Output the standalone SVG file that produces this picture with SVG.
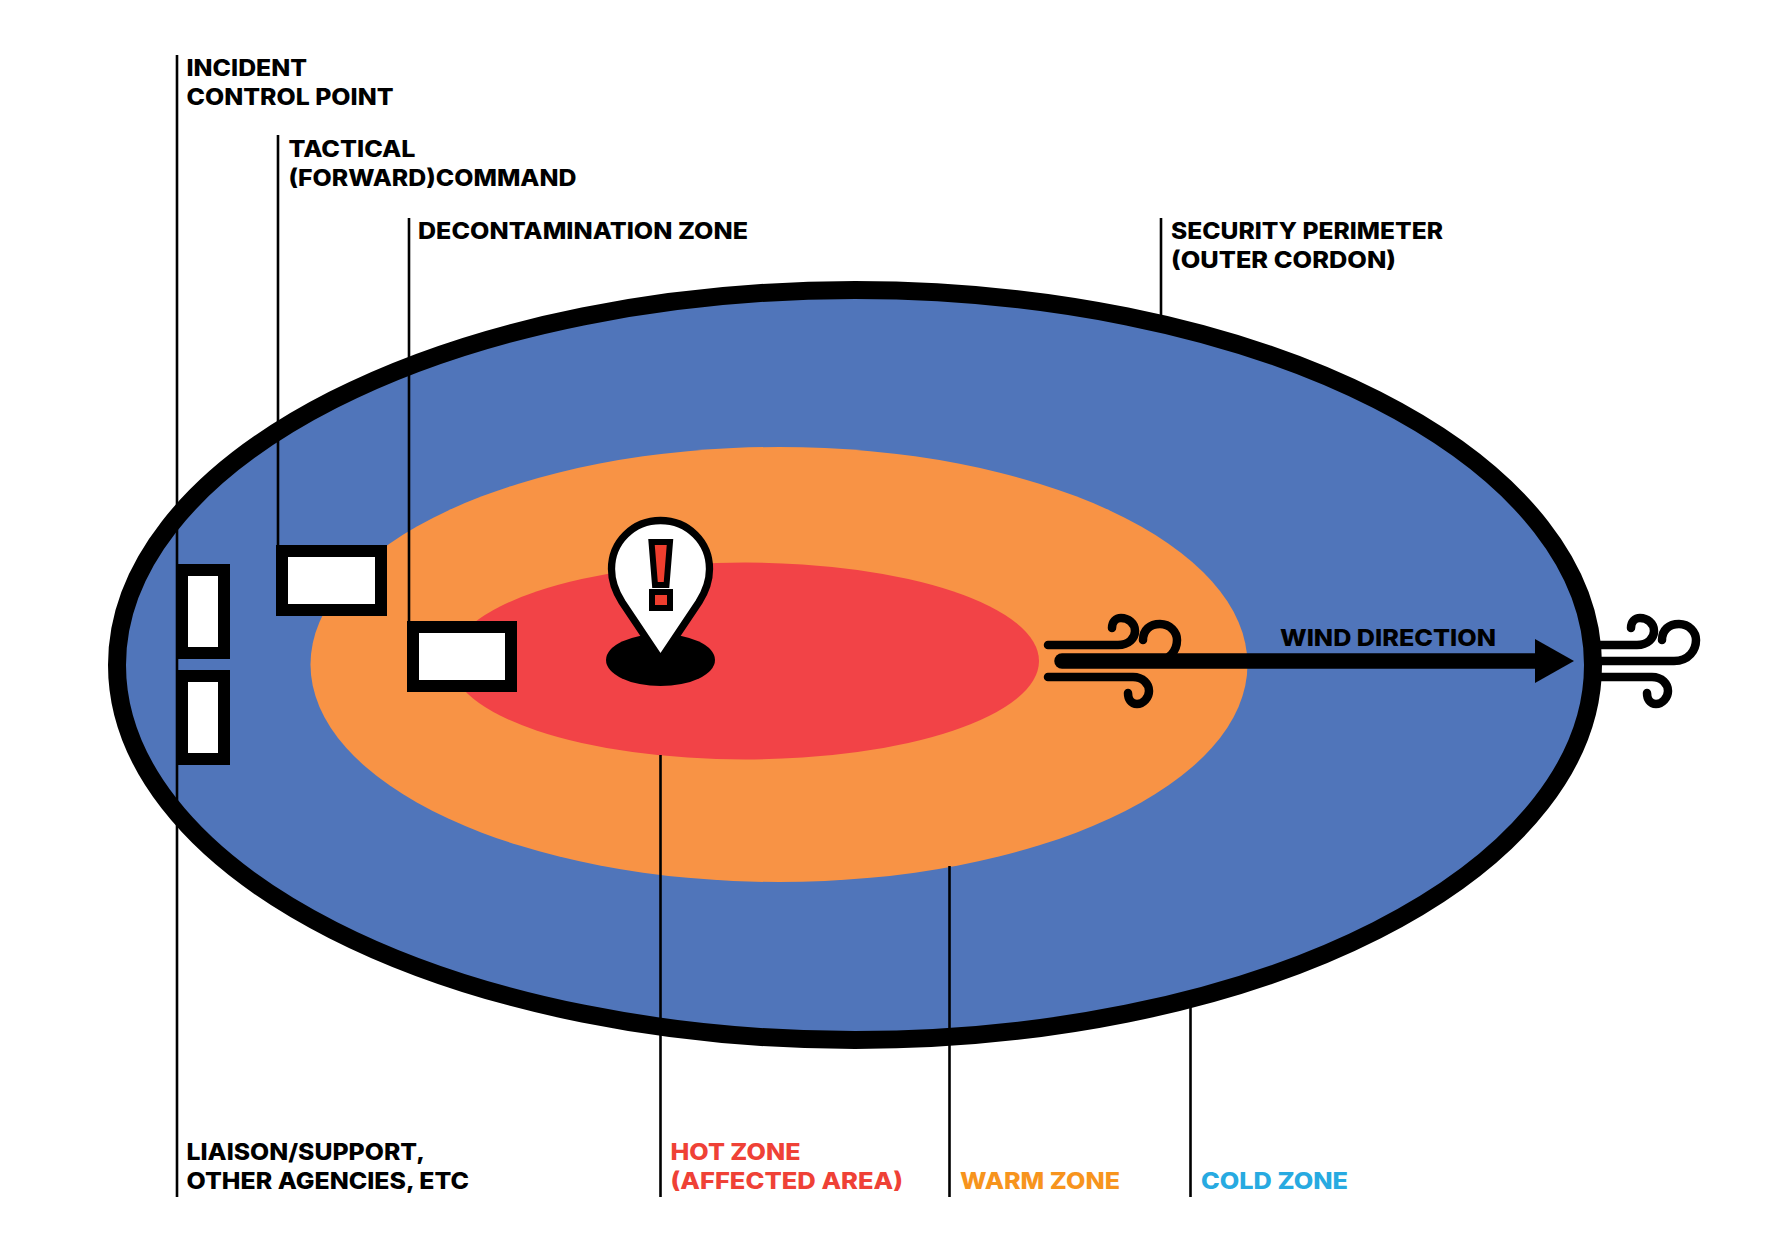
<svg xmlns="http://www.w3.org/2000/svg" width="1785" height="1253" viewBox="0 0 1785 1253">
<style>
text{font-family:"Inter","Liberation Sans",sans-serif;font-weight:800;font-size:22.5px;fill:#000}
.box{fill:#fff;stroke:#000;stroke-width:12}
.lead{stroke:#000;stroke-width:2.6;fill:none}
.wind{fill:none;stroke:#000;stroke-width:8.5;stroke-linecap:round}
</style>
<defs>
<g id="windtop"><path class="wind" d="M1048 645H1118C1129 645 1135 638 1135 631C1135 623 1128 618 1121 618C1116 618 1112 622 1112 628"/><path class="wind" d="M1048 677H1133C1143 677 1149 684 1149 691C1149 698 1143 704 1137 704C1131 704 1128 699 1128 693"/></g>
</defs>
<g id="zones">
<ellipse id="cold-zone" cx="855" cy="665" rx="738" ry="375" fill="#5075BA" stroke="#000" stroke-width="18"/>
<ellipse id="warm-zone" cx="779" cy="664.500" rx="468.500" ry="217.500" fill="#F89345"/>
<ellipse id="hot-zone" cx="745" cy="661" rx="294" ry="98.500" fill="#F24347"/>
</g>
<g id="connectors">
<path class="lead" d="M177 55V1197"/>
<path class="lead" d="M278 135V545"/>
<path class="lead" d="M409 218V621"/>
<path class="lead" d="M1161 218V315"/>
<path class="lead" d="M660.500 755V1197"/>
<path class="lead" d="M949.500 866V1197"/>
<path class="lead" d="M1190.500 1005V1197"/>
</g>
<g id="icp-box"><rect class="box" x="182" y="570" width="42" height="83"/></g>
<g id="liaison-box"><rect class="box" x="182" y="676" width="42" height="83"/></g>
<g id="tactical-box"><rect class="box" x="282" y="551" width="99" height="59"/></g>
<g id="decon-box"><rect class="box" x="413" y="627" width="98" height="59"/></g>
<g id="incident-pin">
<ellipse cx="660.500" cy="660" rx="54.500" ry="26"/>
<path d="M660.500 659.500L622 602C615 591 611.500 581 611.500 569C611.500 542 633 520.500 660.500 520.500C688 520.500 709.500 542 709.500 569C709.500 581 706 591 699 602Z" fill="#fff" stroke="#000" stroke-width="7.300"/>
<path d="M651.500 542H670L666.500 585H655Z" fill="#EF3E2E" stroke="#000" stroke-width="6"/>
<rect x="652" y="592" width="18" height="16" fill="#EF3E2E" stroke="#000" stroke-width="6"/>
</g>
<g id="wind-arrow">
<use href="#windtop"/>
<path class="wind" d="M1143 640C1143 630 1150 624 1160 624C1170 624 1177 632 1177 640C1177 650 1170 661 1155 661"/>
<path d="M1062 661H1540" stroke="#000" stroke-width="15.500" stroke-linecap="round" fill="none"/>
<path d="M1535 639L1574 661L1535 683Z"/>
</g>
<g id="wind-icon">
<path class="wind" stroke-linecap="butt" d="M1598 645H1637C1648 645 1654 638 1654 631C1654 623 1647 618 1640 618C1635 618 1631 622 1631 628"/>
<path class="wind" d="M1662 640C1662 630 1669 624 1679 624C1689 624 1696 632 1696 640C1696 650 1689 661 1674 661H1598"/>
<path class="wind" d="M1598 677H1652C1662 677 1668 684 1668 691C1668 698 1662 704 1656 704C1650 704 1647 699 1647 693"/>
</g>
<g id="labels">
<text x="186.500" y="76" textLength="120.500" lengthAdjust="spacingAndGlyphs">INCIDENT</text>
<text x="186.500" y="104.500" textLength="207" lengthAdjust="spacingAndGlyphs">CONTROL POINT</text>
<text x="288.500" y="157" textLength="127" lengthAdjust="spacingAndGlyphs">TACTICAL</text>
<text x="288.500" y="186" textLength="288" lengthAdjust="spacingAndGlyphs">(FORWARD)COMMAND</text>
<text x="418" y="239" textLength="330" lengthAdjust="spacingAndGlyphs">DECONTAMINATION ZONE</text>
<text x="1171" y="239" textLength="272" lengthAdjust="spacingAndGlyphs">SECURITY PERIMETER</text>
<text x="1171" y="268" textLength="225" lengthAdjust="spacingAndGlyphs">(OUTER CORDON)</text>
<text x="1280" y="646" textLength="216" lengthAdjust="spacingAndGlyphs">WIND DIRECTION</text>
<text x="186.500" y="1160" textLength="238.500" lengthAdjust="spacingAndGlyphs">LIAISON/SUPPORT,</text>
<text x="186.500" y="1189" textLength="282.500" lengthAdjust="spacingAndGlyphs">OTHER AGENCIES, ETC</text>
<text x="670.500" y="1160" textLength="130" lengthAdjust="spacingAndGlyphs" style="fill:#EF4136">HOT ZONE</text>
<text x="670.500" y="1189" textLength="232.500" lengthAdjust="spacingAndGlyphs" style="fill:#EF4136">(AFFECTED AREA)</text>
<text x="960" y="1189" textLength="160" lengthAdjust="spacingAndGlyphs" style="fill:#F7941D">WARM ZONE</text>
<text x="1201" y="1189" textLength="147" lengthAdjust="spacingAndGlyphs" style="fill:#27AAE1">COLD ZONE</text>
</g>
</svg>
